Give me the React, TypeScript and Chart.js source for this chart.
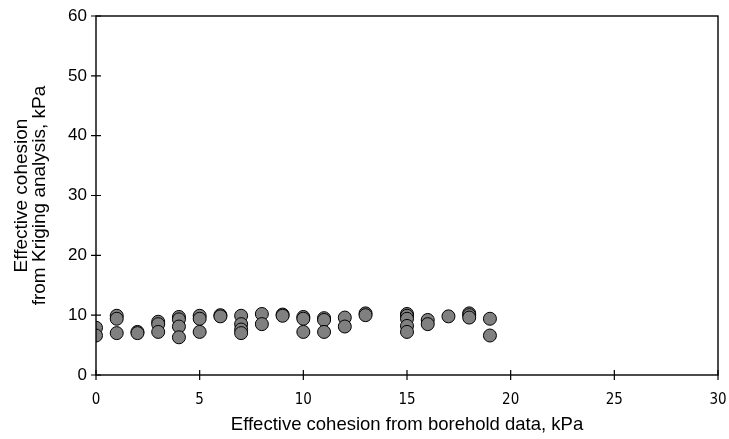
import React, { useEffect, useRef } from "react";
import { Chart, registerables } from "chart.js";

Chart.register(...registerables);

// Effective cohesion (kPa): borehole value vs. Kriging estimate, one entry per sample
const boreholeCohesion = [
  0, 0,
  1, 1, 1,
  2, 2,
  3, 3, 3,
  4, 4, 4, 4,
  5, 5, 5,
  6, 6,
  7, 7, 7, 7,
  8, 8,
  9, 9,
  10, 10, 10,
  11, 11, 11,
  12, 12,
  13, 13,
  15, 15, 15, 15, 15,
  16, 16,
  17,
  18, 18, 18,
  19, 19,
];
const krigingCohesion = [
  7.9, 6.6,
  9.9, 9.4, 7.0,
  7.2, 7.0,
  8.9, 8.5, 7.2,
  9.7, 9.3, 8.1, 6.3,
  9.9, 9.4, 7.2,
  10.0, 9.8,
  9.9, 8.5, 7.6, 7.0,
  10.2, 8.5,
  10.1, 9.9,
  9.7, 9.4, 7.2,
  9.5, 9.2, 7.2,
  9.6, 8.1,
  10.3, 10.0,
  10.2, 9.9, 9.4, 8.2, 7.2,
  9.2, 8.5,
  9.8,
  10.3, 10.0, 9.6,
  9.4, 6.6,
];

const xTicks = [0, 5, 10, 15, 20, 25, 30];
const yTicks = [0, 10, 20, 30, 40, 50, 60];

const xTitle = "Effective cohesion from borehold data, kPa";
const yTitle = ["Effective cohesion", "from Kriging analysis, kPa"];

const SANS = '"Liberation Sans", Arial, sans-serif';
const NARROW = '"Liberation Sans Narrow", "DejaVu Sans Condensed", "Liberation Sans", sans-serif';

// Frame around the plot area plus tick marks that cross the axes
const framePlugin = {
  id: "frame",
  afterDatasetsDraw(chart: any) {
    const { ctx, chartArea, scales } = chart;
    const { left, right, top, bottom } = chartArea;
    ctx.save();
    ctx.strokeStyle = "#000";
    ctx.lineWidth = 1.4;
    ctx.strokeRect(left, top, right - left, bottom - top);
    ctx.lineWidth = 1.2;
    ctx.beginPath();
    for (const v of xTicks) {
      const px = scales.x.getPixelForValue(v);
      ctx.moveTo(px, bottom - 5);
      ctx.lineTo(px, bottom + 5);
    }
    for (const v of yTicks) {
      const py = scales.y.getPixelForValue(v);
      ctx.moveTo(left - 5, py);
      ctx.lineTo(left + 5, py);
    }
    ctx.stroke();
    ctx.restore();
  },
};

export default function App() {
  const canvasRef = useRef<HTMLCanvasElement | null>(null);

  useEffect(() => {
    if (!canvasRef.current) return;
    const points = boreholeCohesion.map((x, i) => ({ x, y: krigingCohesion[i] }));
    const chart = new Chart(canvasRef.current, {
      type: "scatter",
      data: {
        datasets: [
          {
            data: points,
            pointRadius: 6.5,
            pointHoverRadius: 6.5,
            pointBackgroundColor: "#808080",
            pointBorderColor: "#000",
            pointBorderWidth: 1,
          },
        ],
      },
      options: {
        animation: false,
        responsive: true,
        maintainAspectRatio: false,
        layout: { padding: { left: 0, top: 16, right: 11, bottom: 0 } },
        plugins: {
          legend: { display: false },
          tooltip: { enabled: false },
        },
        scales: {
          x: {
            type: "linear",
            min: 0,
            max: 30,
            afterBuildTicks: (s: any) => {
              s.ticks = xTicks.map((v) => ({ value: v }));
            },
            afterFit: (s: any) => {
              s.height = 64;
              s.paddingLeft = 0;
              s.paddingRight = 0;
            },
            grid: { display: false, drawTicks: false },
            border: { display: false },
            ticks: {
              color: "#000",
              padding: 16,
              maxRotation: 0,
              font: { family: NARROW, size: 15 },
            },
            title: {
              display: true,
              text: xTitle,
              color: "#000",
              padding: { top: 0, bottom: 5 },
              font: { family: SANS, size: 18.5, lineHeight: 1 },
            },
          },
          y: {
            type: "linear",
            min: 0,
            max: 60,
            afterBuildTicks: (s: any) => {
              s.ticks = yTicks.map((v) => ({ value: v }));
            },
            afterFit: (s: any) => {
              s.width = 96;
              s.paddingTop = 0;
              s.paddingBottom = 0;
            },
            grid: { display: false, drawTicks: false },
            border: { display: false },
            ticks: {
              color: "#000",
              padding: 9,
              font: { family: SANS, size: 17 },
            },
            title: {
              display: true,
              text: yTitle,
              color: "#000",
              padding: { top: 13, bottom: 0 },
              font: { family: SANS, size: 19, lineHeight: 0.95 },
            },
          },
        },
      },
      plugins: [framePlugin],
    });
    return () => chart.destroy();
  }, []);

  return (
    <div style={{ position: "absolute", left: 0, top: 0, width: 729, height: 439 }}>
      <canvas ref={canvasRef} />
    </div>
  );
}
